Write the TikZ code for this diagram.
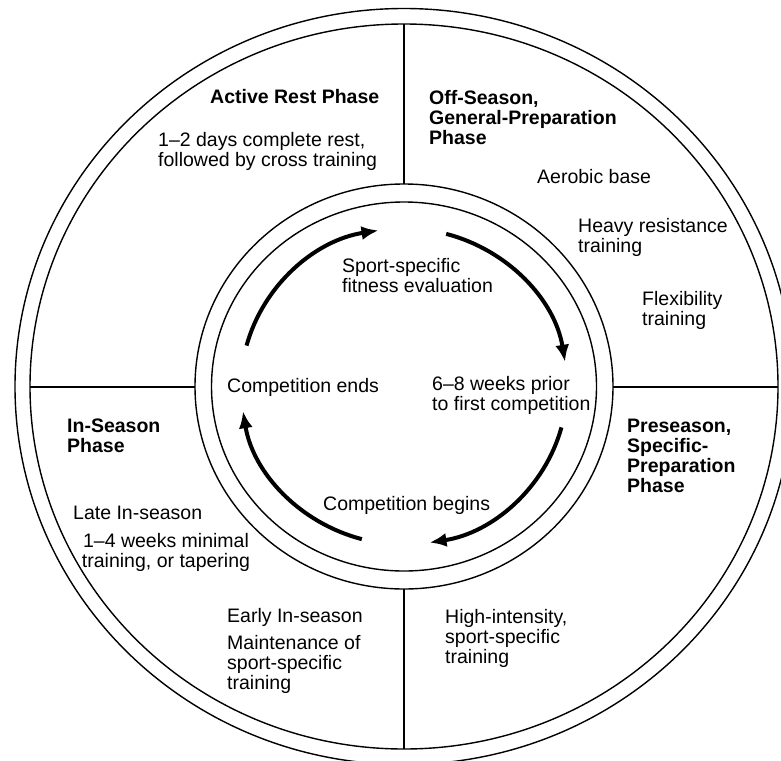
\documentclass[tikz,border=0pt]{standalone}
\usepackage{fontspec}
\setmainfont{Liberation Sans}
\usetikzlibrary{arrows.meta, calc}
\tikzset{
    ringLine/.style={line width=1.4bp},
    divLine/.style={line width=2.8bp},
    cycArrow/.style={line width=4bp, -{Latex[length=17bp, width=14bp]}},
    phaseHead/.style={font=\fontsize{19.5bp}{20bp}\selectfont\bfseries, inner sep=0pt, align=left},
    phaseText/.style={font=\fontsize{19.5bp}{20bp}\selectfont, inner sep=0pt, align=left}
}
\begin{document}
\begin{tikzpicture}[x=1bp, y=-1bp]
    \useasboundingbox (0,0) rectangle (781,761);
    \clip (0,0) rectangle (781,761);
    \coordinate (hub) at (404,386.5);
    % two double rings
    \draw[ringLine] (hub) ellipse [x radius=389bp, y radius=378bp];
    \draw[ringLine] (hub) ellipse [x radius=374bp, y radius=362.5bp];
    \draw[ringLine] (hub) ellipse [x radius=209bp, y radius=202.5bp];
    \draw[ringLine] (hub) ellipse [x radius=192.5bp, y radius=184.5bp];
    % dividers between the phases
    \coordinate (nOut) at (404,24);   \coordinate (nIn) at (404,184);
    \coordinate (sOut) at (404,749);  \coordinate (sIn) at (404,589);
    \coordinate (wOut) at (30,387);   \coordinate (wIn) at (195,387);
    \coordinate (eOut) at (778,387);  \coordinate (eIn) at (613,387);
    \draw[divLine] (nIn)--(nOut);
    \draw[divLine] (sIn)--(sOut);
    \draw[divLine] (wIn)--(wOut);
    \draw[divLine] (eIn)--(eOut);
    % cycle arrows
    \foreach \a in {165,75,-15,-105}
        \draw[cycArrow] (hub) ++(\a:163bp and 158bp)
            arc[start angle=\a, end angle=\a-66, x radius=163bp, y radius=158bp];
    % inner labels
    \node[phaseText, anchor=north west] (evalTxt) at (342,258) {Sport-specific\\fitness evaluation};
    \node[phaseText, anchor=base west] (endsTxt) at (227,392) {Competition ends};
    \node[phaseText, anchor=north west] (priorTxt) at (432,376) {6--8 weeks prior\\to first competition};
    \node[phaseText, anchor=base west] (beginsTxt) at (323,510) {Competition begins};
    % active rest
    \node[phaseHead, anchor=base west] (restHead) at (210,103) {Active Rest Phase};
    \node[phaseText, anchor=north west] (restTxt) at (158,132) {1--2 days complete rest,\\followed by cross training};
    % off-season
    \node[phaseHead, anchor=north west] (offHead) at (429,90) {Off-Season,\\General-Preparation\\Phase};
    \node[phaseText, anchor=base west] (aeroTxt) at (537,183) {Aerobic base};
    \node[phaseText, anchor=north west] (heavyTxt) at (578,218) {Heavy resistance\\training};
    \node[phaseText, anchor=north west] (flexTxt) at (642,291) {Flexibility\\training};
    % preseason
    \node[phaseHead, anchor=north west] (preHead) at (627,419) {Preseason,\\Specific-\\Preparation\\Phase};
    \node[phaseText, anchor=north west] (highTxt) at (445,609) {High-intensity,\\sport-specific\\training};
    % in-season
    \node[phaseHead, anchor=north west] (inHead) at (67,419) {In-Season\\Phase};
    \node[phaseText, anchor=base west] (lateHead) at (73,519) {Late In-season};
    \node[phaseText, anchor=north, align=center] (lateTxt) at (166,533) {1--4 weeks minimal\\training, or tapering};
    \node[phaseText, anchor=base west] (earlyHead) at (227,622) {Early In-season};
    \node[phaseText, anchor=north west] (earlyTxt) at (227,635) {Maintenance of\\sport-specific\\training};
\end{tikzpicture}
\end{document}
